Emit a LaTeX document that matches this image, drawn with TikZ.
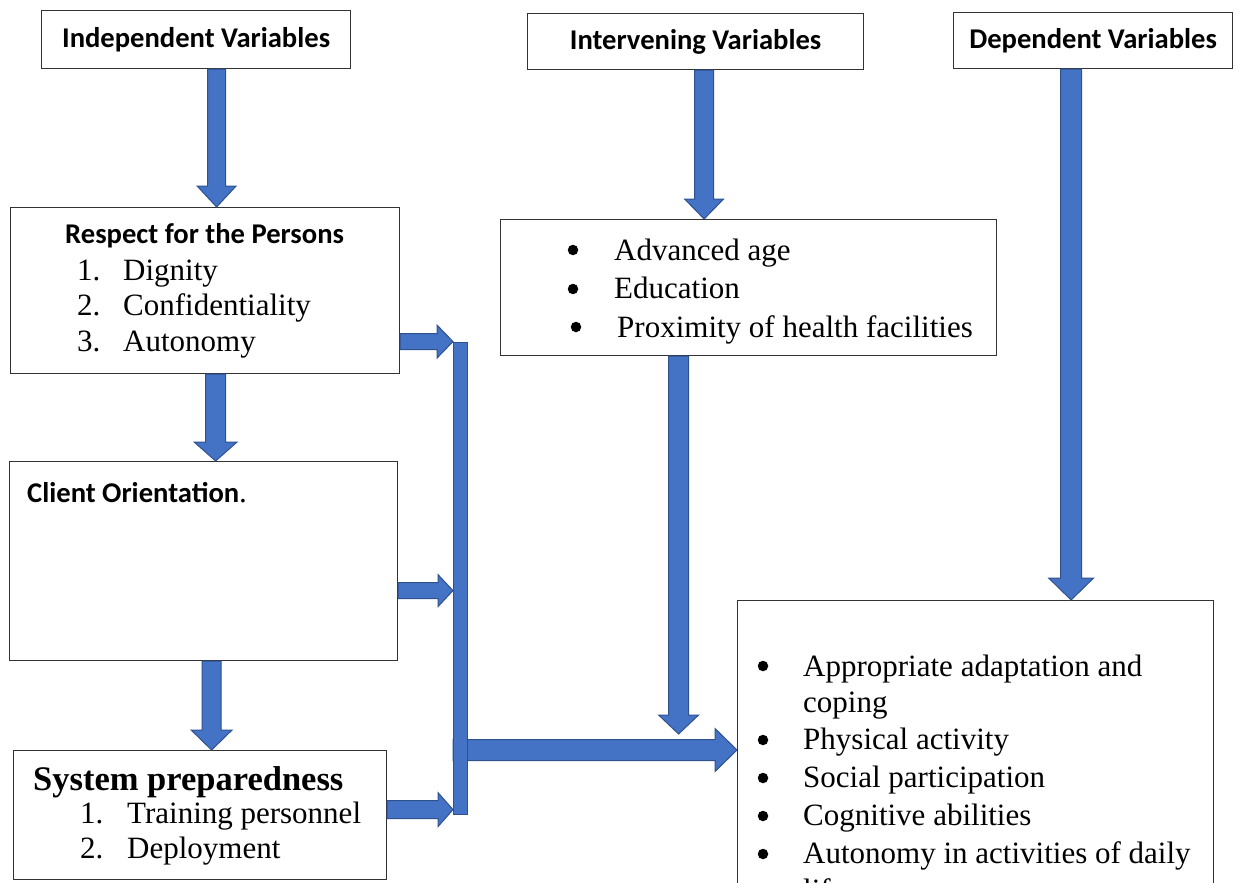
\documentclass[tikz,border=0pt]{standalone}
\usepackage{fontspec}
\setmainfont{Liberation Serif}
\newfontfamily\calib{Carlito}
\usetikzlibrary{calc,backgrounds}
\definecolor{arrowfill}{HTML}{4472C4}
\definecolor{arrowedge}{HTML}{2F528F}
\begin{document}
\begin{tikzpicture}[x=1pt,y=-1pt,
    box/.style={draw=black!80, line width=1.2pt, anchor=north west, inner sep=0pt},
    head/.style={box, font=\calib\bfseries\fontsize{28.6}{34}\selectfont},
    txt/.style={anchor=base west, inner sep=0pt, font=\fontsize{31}{37}\selectfont},
    dot/.style={circle, fill=black, inner sep=0pt, minimum size=10.5pt},
    barrow/.style={fill=arrowfill, draw=arrowedge, line width=1pt},
    godown/.style n args={3}{barrow, to path={let \p1=(\tikztostart), \p2=(\tikztotarget) in
        (\x1-#1pt,\y1) -- (\x1-#1pt,\y2+#3pt) -- (\x1-#2pt,\y2+#3pt) -- (\x1,\y2)
        -- (\x1+#2pt,\y2+#3pt) -- (\x1+#1pt,\y2+#3pt) -- (\x1+#1pt,\y1) -- cycle}},
    goright/.style n args={3}{barrow, to path={let \p1=(\tikztostart), \p2=(\tikztotarget) in
        (\x1,\y1+#1pt) -- (\x2-#3pt,\y1+#1pt) -- (\x2-#3pt,\y1+#2pt) -- (\x2,\y1)
        -- (\x2-#3pt,\y1-#2pt) -- (\x2-#3pt,\y1-#1pt) -- (\x1,\y1-#1pt) -- cycle}}]
    \clip (0,0) rectangle (1242,883);
    % headings
    \node[head, minimum width=309pt, minimum height=58pt] (indep) at (41,10) {Independent Variables};
    \node[head, minimum width=336pt, minimum height=56pt] (interv) at (527,13) {Intervening Variables};
    \node[head, minimum width=279pt, minimum height=56pt] (dep) at (953,12) {Dependent Variables};
    % boxes
    \node[box, minimum width=389pt, minimum height=166pt] (respect) at (10,207) {};
    \node[box, minimum width=496pt, minimum height=136pt] (intitems) at (500,219) {};
    \node[box, minimum width=388pt, minimum height=199pt] (client) at (9,461) {};
    \node[box, minimum width=373pt, minimum height=129pt] (system) at (13,750) {};
    \node[box, minimum width=476pt, minimum height=320pt] (depitems) at (737,600) {};
    % respect for the persons
    \node[txt, font=\calib\bfseries\fontsize{28.6}{34}\selectfont] (rtitle) at (65,243) {Respect for the Persons};
    \node[txt] (r1n) at (77,280) {1.};
    \node[txt] (r1) at (123,280) {Dignity};
    \node[txt] (r2n) at (77,315) {2.};
    \node[txt] (r2) at (123,315) {Confidentiality};
    \node[txt] (r3n) at (77,351) {3.};
    \node[txt] (r3) at (123,351) {Autonomy};
    % intervening
    \node[dot] (i1b) at (573,250) {};
    \node[txt] (i1) at (614,260) {Advanced age};
    \node[dot] (i2b) at (573,289) {};
    \node[txt] (i2) at (614,298) {Education};
    \node[dot] (i3b) at (576,327) {};
    \node[txt] (i3) at (617,337) {Proximity of health facilities};
    % client orientation
    \node[txt] (ctitle) at (27,502) {{\calib\bfseries\fontsize{28.6}{34}\selectfont Client Orientation}.};
    % system preparedness
    \node[txt, font=\bfseries\fontsize{34.5}{40}\selectfont] (stitle) at (33,790) {System preparedness};
    \node[txt] (s1n) at (80,823) {1.};
    \node[txt] (s1) at (127,823) {Training personnel};
    \node[txt] (s2n) at (80,858) {2.};
    \node[txt] (s2) at (127,858) {Deployment};
    % dependent
    \node[dot] (d1b) at (763,666) {};
    \node[txt] (d1) at (803,676) {Appropriate adaptation and};
    \node[txt] (d1c) at (803,712) {coping};
    \node[dot] (d2b) at (763,740) {};
    \node[txt] (d2) at (803,749) {Physical activity};
    \node[dot] (d3b) at (763,778) {};
    \node[txt] (d3) at (803,787) {Social participation};
    \node[dot] (d4b) at (763,816) {};
    \node[txt] (d4) at (803,825) {Cognitive abilities};
    \node[dot] (d5b) at (763,854) {};
    \node[txt] (d5) at (803,863) {Autonomy in activities of daily};
    \node[txt] (d5c) at (803,900) {life};
    % arrows
    \coordinate (meet) at (678,734);
    \node[barrow, anchor=north west, inner sep=0pt, minimum width=14pt, minimum height=472pt] (bar) at (453,342) {};
    \draw[godown={9}{19.5}{21}] ([xshift=20.5]indep.south) to (respect.north);
    \draw[godown={10}{21.5}{19}] ([xshift=10.5]respect.south) to (client.north);
    \draw[godown={9.5}{20.5}{20}] ([xshift=8]client.south) to (system.north);
    \draw[godown={9.5}{19.5}{20}] ([xshift=8.5]interv.south) to (intitems.north);
    \draw[godown={10.5}{22.5}{22}] ([xshift=-22]dep.south) to (depitems.north);
    \draw[godown={10}{20}{19}] ([xshift=-70]intitems.south) to (meet);
    \draw[goright={8}{16.5}{16}] ([yshift=-51]respect.east) to (bar.west);
    \draw[goright={8}{16}{15}] ([yshift=-29.5]client.east) to (bar.west);
    \draw[goright={9}{17}{15}] ([yshift=5.5]system.east) to (bar.west);
    \begin{scope}[on background layer]
        \draw[goright={10.5}{21.5}{22}] ([yshift=-171.5]bar.west) to (depitems.west);
    \end{scope}
\end{tikzpicture}
\end{document}
